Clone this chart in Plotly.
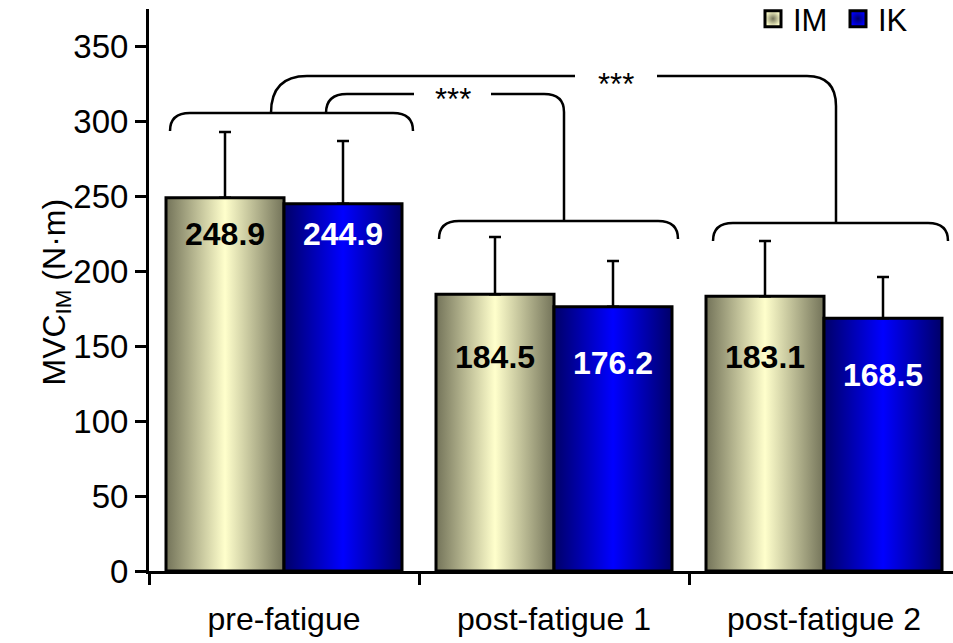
import plotly.graph_objects as go

# ---- data ----
categories = ["pre-fatigue", "post-fatigue 1", "post-fatigue 2"]
series_names = ["IM", "IK"]
im_mean = [248.9, 184.5, 183.1]
ik_mean = [244.9, 176.2, 168.5]
im_sd = [43.8, 38.2, 36.9]
ik_sd = [41.8, 30.5, 27.5]
y_ticks = [0, 50, 100, 150, 200, 250, 300, 350]
sig_label = "***"

# ---- layout constants ----
W, H = 953, 643
ML, MR, MT, MB = 149, 0, 9, 72
PX_PER_CAT = 270.0
PX_PER_UNIT = 1.5
plot_w = W - ML - MR
plot_h = H - MT - MB
x_range = [-0.5, -0.5 + plot_w / PX_PER_CAT]
y_range = [0, plot_h / PX_PER_UNIT]
BAR_W = 118 / PX_PER_CAT  # width of one bar in category units

FONT = "Liberation Sans, Arial, sans-serif"
IM_SCALE = [[0, "#737359"], [0.5, "#ffffcc"], [1, "#737359"]]
IK_SCALE = [[0, "#000068"], [0.5, "#0000ff"], [1, "#000068"]]

# value-label heights inside the bars (data units)
im_label_y = [225, 143, 143]
ik_label_y = [225, 139, 131]


def px_x(dx):
    return dx / PX_PER_CAT


def px_y(dy):
    return dy / PX_PER_UNIT


fig = go.Figure()

# gradient-filled bars, outlined in black
for means, side, scale in ((im_mean, -1, IM_SCALE), (ik_mean, 1, IK_SCALE)):
    for i, m in enumerate(means):
        x0, x1 = (i - BAR_W, i) if side < 0 else (i, i + BAR_W)
        fig.add_trace(go.Scatter(
            x=[x0, x1, x1, x0, x0], y=[0, 0, m, m, 0],
            mode="lines", fill="toself",
            fillgradient=dict(type="horizontal", colorscale=scale),
            line=dict(color="black", width=3),
            showlegend=False, hoverinfo="skip"))

# upward error bars
for means, sds, side in ((im_mean, im_sd, -1), (ik_mean, ik_sd, 1)):
    fig.add_trace(go.Scatter(
        x=[i + side * BAR_W / 2 for i in range(len(means))], y=means,
        mode="markers", marker=dict(size=2, opacity=0),
        error_y=dict(type="data", symmetric=False, array=sds,
                     arrayminus=[0] * len(sds), color="black",
                     thickness=2.5, width=6),
        showlegend=False, hoverinfo="skip"))

# legend entries
for name, light, dark in (("IM", "#ffffcc", "#737359"), ("IK", "#0000ff", "#000068")):
    fig.add_trace(go.Scatter(
        x=[None], y=[None], mode="markers", name=name,
        marker=dict(symbol="square", size=19, color=light,
                    gradient=dict(type="radial", color=dark),
                    line=dict(color="black", width=3))))

# value labels
annotations = []
for i in range(len(categories)):
    annotations.append(dict(x=i - BAR_W / 2, y=im_label_y[i], xref="x", yref="y",
                            text=f"<b>{im_mean[i]:.1f}</b>", showarrow=False,
                            font=dict(family=FONT, size=32, color="black")))
    annotations.append(dict(x=i + BAR_W / 2, y=ik_label_y[i], xref="x", yref="y",
                            text=f"<b>{ik_mean[i]:.1f}</b>", showarrow=False,
                            font=dict(family=FONT, size=32, color="white")))

# significance brackets
LW = 2.5
rx, ry = px_x(20), px_y(18)


def group_bracket(xa, xb, ytop):
    yend = ytop - ry
    return (f"M{xa},{yend} Q{xa},{ytop} {xa + rx},{ytop} "
            f"L{xb - rx},{ytop} Q{xb},{ytop} {xb},{yend}")


pre_l, pre_r, pre_top = px_x(170 - ML) - 0.5, px_x(413 - ML) - 0.5, px_y(571 - 113)
p1_l, p1_r, p1_top = px_x(439 - ML) - 0.5, px_x(678 - ML) - 0.5, px_y(571 - 221)
p2_l, p2_r, p2_top = px_x(713 - ML) - 0.5, px_x(948 - ML) - 0.5, px_y(571 - 223)

outer_stem, inner_stem = px_x(271 - ML) - 0.5, px_x(326 - ML) - 0.5
p1_stem, p2_stem = px_x(564 - ML) - 0.5, px_x(836 - ML) - 0.5
outer_y, inner_y = px_y(571 - 76), px_y(571 - 94)
outer_gap = (px_x(575 - ML) - 0.5, px_x(657 - ML) - 0.5)
inner_gap = (px_x(414 - ML) - 0.5, px_x(491 - ML) - 0.5)

paths = [
    group_bracket(pre_l, pre_r, pre_top),
    group_bracket(p1_l, p1_r, p1_top),
    group_bracket(p2_l, p2_r, p2_top),
    # pre-fatigue vs post-fatigue 2
    (f"M{outer_stem},{pre_top} Q{outer_stem},{outer_y} {outer_stem + px_x(36)},{outer_y} "
     f"L{outer_gap[0]},{outer_y}"),
    (f"M{outer_gap[1]},{outer_y} L{p2_stem - px_x(29)},{outer_y} "
     f"Q{p2_stem},{outer_y} {p2_stem},{outer_y - px_y(30)} L{p2_stem},{p2_top}"),
    # pre-fatigue vs post-fatigue 1
    (f"M{inner_stem},{pre_top} Q{inner_stem},{inner_y} {inner_stem + px_x(21)},{inner_y} "
     f"L{inner_gap[0]},{inner_y}"),
    (f"M{inner_gap[1]},{inner_y} L{p1_stem - px_x(20)},{inner_y} "
     f"Q{p1_stem},{inner_y} {p1_stem},{inner_y - px_y(18)} L{p1_stem},{p1_top}"),
]
shapes = [dict(type="path", path=p, xref="x", yref="y",
               line=dict(color="black", width=LW)) for p in paths]

annotations.append(dict(x=sum(outer_gap) / 2, y=outer_y - px_y(8), xref="x", yref="y",
                        text=sig_label, showarrow=False,
                        font=dict(family=FONT, size=31, color="black")))
annotations.append(dict(x=sum(inner_gap) / 2, y=inner_y - px_y(5), xref="x", yref="y",
                        text=sig_label, showarrow=False,
                        font=dict(family=FONT, size=31, color="black")))

# y-axis title
annotations.append(dict(x=(33 - ML) / plot_w, y=(571 - 292) / plot_h,
                        xref="paper", yref="paper", textangle=-90,
                        text="MVC<sub>IM</sub> (N·m)", showarrow=False,
                        font=dict(family=FONT, size=32, color="black")))

fig.update_layout(
    width=W, height=H,
    margin=dict(l=ML, r=MR, t=MT, b=MB, pad=0, autoexpand=False),
    paper_bgcolor="white", plot_bgcolor="white",
    font=dict(family=FONT, size=33, color="black"),
    showlegend=True,
    legend=dict(orientation="h", x=(753 - ML) / plot_w, xanchor="left",
                y=(571 - 19) / plot_h, yanchor="middle",
                font=dict(family=FONT, size=31, color="black"),
                bgcolor="rgba(0,0,0,0)", itemwidth=30, tracegroupgap=0,
                entrywidth=40, entrywidthmode="pixels"),
    xaxis=dict(range=x_range, tickmode="array", tickvals=[0, 1, 2],
               ticktext=categories, ticks="", showline=True, linecolor="black",
               linewidth=3, showgrid=False, zeroline=False, automargin=False,
               ticklabelstandoff=18, tickfont=dict(size=32),
               minor=dict(tickmode="array", tickvals=[-0.5, 0.5, 1.5],
                          ticks="outside", ticklen=11, tickwidth=2.5,
                          tickcolor="black", showgrid=False)),
    yaxis=dict(range=y_range, tickmode="array", tickvals=y_ticks,
               ticks="outside", ticklen=11, tickwidth=2.5, tickcolor="black",
               showline=True, linecolor="black", linewidth=3, automargin=False,
               showgrid=False, zeroline=False, tickfont=dict(size=33)),
    shapes=shapes,
    annotations=annotations,
)

fig.write_html("out.html")
